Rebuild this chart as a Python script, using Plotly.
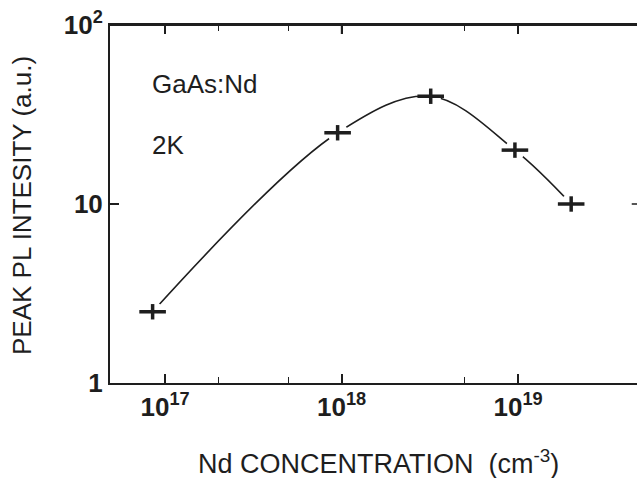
import plotly.graph_objects as go

nd_conc = [8.5e16, 9.5e17, 3.2e18, 9.6e18, 2.0e19]
pl_int = [2.5, 25, 40, 20, 10]

x_tickvals = [1e17, 1e18, 1e19]
x_ticktext = ["10<sup>17</sup>", "10<sup>18</sup>", "10<sup>19</sup>"]
x_minor = [2e17, 5e17, 5e18]
y_tickvals = [1, 10, 100]
y_ticktext = ["1", "10", "10<sup>2</sup>"]
y_right_ticks = [10]

ink = "#1e1e1e"
font_fam = "Liberation Sans, Arial, sans-serif"
x_range = [16.688, 19.674]

fig = go.Figure()
fig.add_trace(go.Scatter(x=nd_conc, y=pl_int, mode="lines",
                         line=dict(shape="spline", color=ink, width=1.6),
                         hoverinfo="skip", showlegend=False))
fig.add_trace(go.Scatter(x=nd_conc, y=pl_int, mode="markers",
                         marker=dict(symbol="circle", size=21, color="white",
                                     line=dict(width=0)),
                         hoverinfo="skip", showlegend=False))
fig.add_trace(go.Scatter(x=nd_conc, y=pl_int, mode="markers",
                         marker=dict(symbol="line-ew", size=19,
                                     line=dict(color=ink, width=3.5)),
                         showlegend=False))
fig.add_trace(go.Scatter(x=nd_conc, y=pl_int, mode="markers",
                         marker=dict(symbol="line-ns", size=11,
                                     line=dict(color=ink, width=3.5)),
                         showlegend=False))

fig.update_layout(
    xaxis=dict(type="log", range=x_range, automargin=False,
               tickvals=x_tickvals, ticktext=x_ticktext,
               ticks="inside", ticklen=9, tickwidth=1.5, tickcolor=ink,
               showline=True, linecolor=ink, linewidth=2, mirror="allticks",
               showgrid=False, zeroline=False,
               tickfont=dict(family=font_fam, size=26, color=ink, weight="bold"),
               minor=dict(tickvals=x_minor, ticks="inside", ticklen=6,
                          tickwidth=1.2, tickcolor=ink, showgrid=False)),
    yaxis=dict(type="log", range=[0, 2], automargin=False,
               tickvals=y_tickvals, ticktext=y_ticktext,
               ticks="inside", ticklen=9, tickwidth=1.5, tickcolor=ink,
               showline=True, linecolor=ink, linewidth=2, mirror=False,
               showgrid=False, zeroline=False,
               tickfont=dict(family=font_fam, size=26, color=ink, weight="bold")),
)

# frame line along the top of the plot area
fig.add_shape(type="line", xref="paper", yref="paper", x0=0, x1=1, y0=1, y1=1,
              line=dict(color=ink, width=2), layer="above")
# top-edge ticks at the major x tick values
for tv in x_tickvals:
    fig.add_shape(type="line", xref="x", yref="paper", x0=tv, x1=tv, y0=1, y1=0.975,
                  line=dict(color=ink, width=1.5), layer="above")
# right-edge tick
for tv in y_right_ticks:
    fig.add_shape(type="line", xref="paper", yref="y", x0=0.99, x1=1, y0=tv, y1=tv,
                  line=dict(color=ink, width=1.5), layer="above")

# plot area in page pixels: x 110..637, y 25..383
fig.add_annotation(text="GaAs:Nd", xref="paper", yref="paper",
                   x=(150 - 110) / 527, y=(383 - 84) / 358, xanchor="left", yanchor="middle",
                   showarrow=False, font=dict(family=font_fam, size=26, color=ink))
fig.add_annotation(text="2K", xref="paper", yref="paper",
                   x=(150 - 110) / 527, y=(383 - 145) / 358, xanchor="left", yanchor="middle",
                   showarrow=False, font=dict(family=font_fam, size=26, color=ink))
fig.add_annotation(text="Nd CONCENTRATION  (cm<sup>-3</sup>)", xref="paper", yref="paper",
                   x=(379 - 110) / 527, y=(383 - 462) / 358, xanchor="center", yanchor="middle",
                   showarrow=False, font=dict(family=font_fam, size=27, color=ink))
fig.add_annotation(text="PEAK PL INTESITY (a.u.)", xref="paper", yref="paper",
                   x=(22 - 110) / 527, y=(383 - 206) / 358, xanchor="center", yanchor="middle",
                   textangle=-90, showarrow=False,
                   font=dict(family=font_fam, size=26, color=ink))

fig.update_layout(width=637, height=478,
                  margin=dict(l=110, r=0, t=25, b=95),
                  paper_bgcolor="white", plot_bgcolor="white",
                  showlegend=False)

fig.write_html("out.html", config={"displayModeBar": False},
               post_script="document.body.style.margin='0';document.body.style.overflow='hidden';")
